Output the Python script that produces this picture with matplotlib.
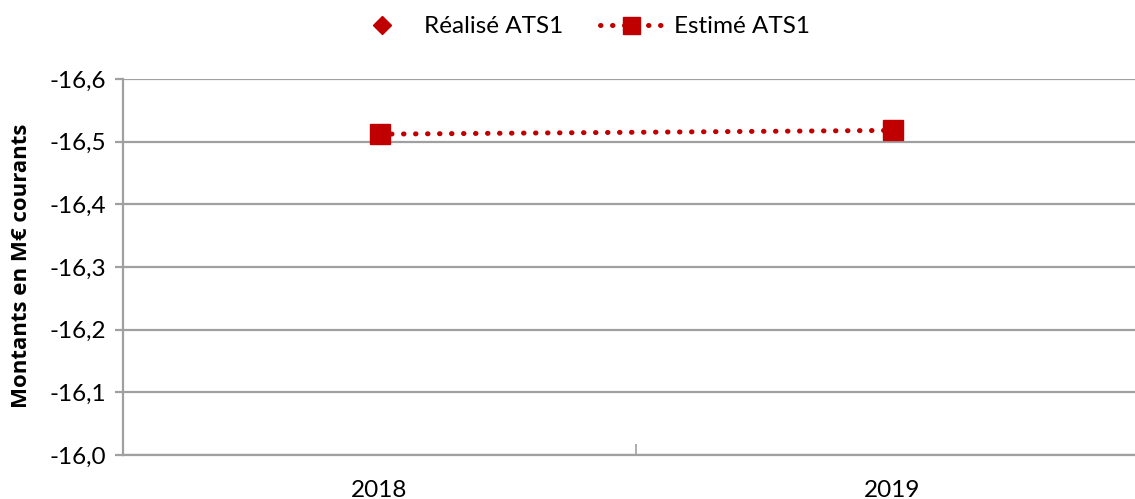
import matplotlib.pyplot as plt
from matplotlib.lines import Line2D

years = ["2018", "2019"]
estime = [-16.512, -16.518]
yticks = [-16.6, -16.5, -16.4, -16.3, -16.2, -16.1, -16.0]
ylabels = ["-16,6", "-16,5", "-16,4", "-16,3", "-16,2", "-16,1", "-16,0"]

red = "#C00000"
grid_col = "#A0A0A0"

plt.rcParams['font.family'] = ['Lato', 'DejaVu Sans']

fig = plt.figure(figsize=(11.35, 4.99), dpi=100)
ax = fig.add_axes([123/1135, 44/499, 1 - 123/1135, 376/499])

x = list(range(len(years)))
ax.plot(x, estime, color=red, lw=3.6, linestyle=(0, (0.1, 2.3)),
        dash_capstyle='round', marker='s', markersize=14.4, zorder=3)

ax.set_ylim(-16.0, -16.6)
ax.set_yticks(yticks)
ax.set_yticklabels(ylabels, fontsize=17.5)
ax.yaxis.grid(True, color=grid_col, lw=1.6)
ax.set_axisbelow(True)

ax.set_xlim(-0.5, -0.5 + 1012/513)
ax.set_xticks([0.5])
ax.set_xticklabels([])
ax.set_xticks(x, minor=True)
ax.set_xticklabels(years, minor=True, fontsize=17.5)
ax.tick_params(axis='x', which='major', direction='in', length=8, width=1.2, color=grid_col)
ax.tick_params(axis='x', which='minor', length=0, pad=18)
ax.tick_params(axis='y', direction='out', length=6, width=1.6, color=grid_col, pad=6)

for s in ['top', 'right']:
    ax.spines[s].set_visible(False)
for s in ['left', 'bottom']:
    ax.spines[s].set_color(grid_col)
    ax.spines[s].set_linewidth(1.6)

fig.text(22/1135, 1 - 266/499, "Montants en M€ courants", rotation=90, fontsize=16,
         fontweight='bold', family=['Open Sans', 'DejaVu Sans'], ha='center', va='center')

h1 = Line2D([], [], color=red, marker='D', linestyle='none', markersize=10.2)
h2 = Line2D([], [], color=red, lw=3.6, linestyle=(0, (0.1, 2.3)),
            dash_capstyle='round', marker='s', markersize=14.4)
fig.legend([h1, h2], ["Réalisé ATS1", "Estimé ATS1"], loc='center', ncol=2,
           bbox_to_anchor=(0.511, 0.946), frameon=False, fontsize=17.5,
           handlelength=2.6, handletextpad=0.45, columnspacing=1.5, markerscale=0.85)

fig.savefig("out.png", dpi=100)
